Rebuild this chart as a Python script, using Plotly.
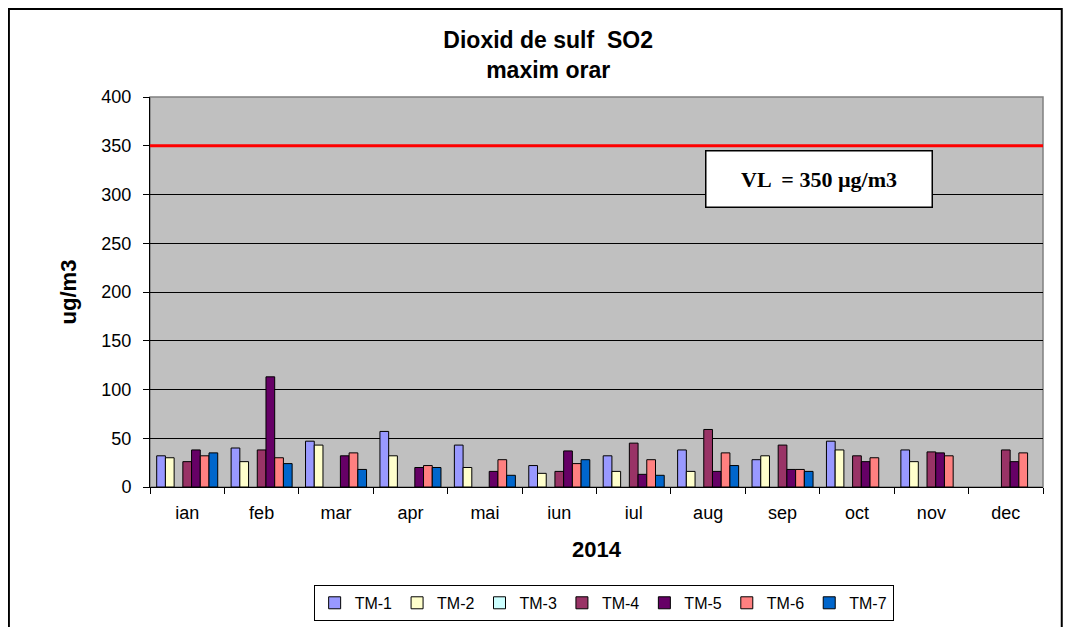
import plotly.graph_objects as go

months = ['ian', 'feb', 'mar', 'apr', 'mai', 'iun', 'iul', 'aug', 'sep', 'oct', 'nov', 'dec']

tm1 = [32, 40, 47, 57, 43, 22, 32, 38, 28, 47, 38, None]
tm2 = [30, 26, 43, 32, 20, 14, 16, 16, 32, 38, 26, None]
tm3 = [None] * 12
tm4 = [26, 38, None, None, None, 16, 45, 59, 43, 32, 36, 38]
tm5 = [38, 113, 32, 20, 16, 37, 13, 16, 18, 26, 35, 26]
tm6 = [32, 30, 35, 22, 28, 24, 28, 35, 18, 30, 32, 35]
tm7 = [35, 24, 18, 20, 12, 28, 12, 22, 16, None, None, None]

series = {'TM-1': tm1, 'TM-2': tm2, 'TM-3': tm3, 'TM-4': tm4,
          'TM-5': tm5, 'TM-6': tm6, 'TM-7': tm7}
colors = ['#9999FF', '#FFFFCC', '#CCFFFF', '#993366', '#660066', '#FF8080', '#0066CC']

limit_value = 350

fig = go.Figure()
for (name, vals), col in zip(series.items(), colors):
    fig.add_trace(go.Bar(x=months, y=vals, name=name,
                         marker=dict(color=col, line=dict(color='black', width=1))))

# plot area frame (grey, like excel)
fig.add_shape(type='rect', xref='paper', yref='paper', x0=0, x1=1, y0=0, y1=1,
              line=dict(color='#808080', width=1.5), layer='below')

# limit line
fig.add_shape(type='line', xref='paper', yref='y', x0=0, x1=1,
              y0=limit_value, y1=limit_value, line=dict(color='#FF0000', width=3))

# chart border
fig.add_shape(type='rect', xref='paper', yref='paper', x0=-0.158, x1=1.021,
              y0=-0.40, y1=1.2256, line=dict(color='black', width=2), layer='below')

fig.add_annotation(xref='paper', yref='paper', x=0.749, y=0.791,
                   xanchor='center', yanchor='middle',
                   text='<b>VL  = 350 µg/m3</b>', showarrow=False,
                   font=dict(family='Liberation Serif', size=22, color='black'),
                   bgcolor='white', bordercolor='black', borderwidth=1.5,
                   width=215, height=45, borderpad=5)

fig.update_layout(
    width=1055, height=619,
    margin=dict(l=142, r=20, t=89, b=140, autoexpand=False),
    paper_bgcolor='white', plot_bgcolor='#C0C0C0',
    font=dict(family='Liberation Sans, Arial', size=18, color='black'),
    title=dict(text='<b>Dioxid de sulf  SO2<br>maxim orar</b>', x=0.512, xanchor='center',
               y=0.935, yanchor='top', font=dict(size=23)),
    barmode='group', bargap=0.18, bargroupgap=0,
    legend=dict(orientation='h', x=0.508, xanchor='center', y=-0.251, yanchor='top',
                bordercolor='black', borderwidth=1, font=dict(size=16),
                itemwidth=30, tracegroupgap=0),
    xaxis=dict(title=dict(text='<b>2014</b>', standoff=20), showline=True, linecolor='black',
               ticks='outside', tickson='boundaries', ticklen=6, tickcolor='black',
               ticklabelstandoff=9, showgrid=False, automargin=False),
    yaxis=dict(title=dict(text='<b>ug/m3</b>', standoff=18), range=[0, 400], dtick=50,
               showline=True, linecolor='black', ticks='outside', ticklen=6, tickcolor='black',
               ticklabelstandoff=8, gridcolor='black', gridwidth=1, zeroline=False,
               automargin=False),
)

fig.write_html('out.html')
